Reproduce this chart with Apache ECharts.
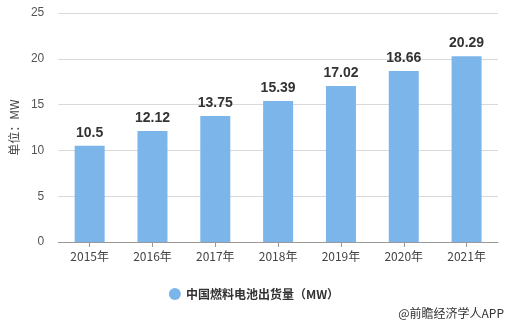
<!DOCTYPE html>
<html><head><meta charset="utf-8">
<script src="https://cdn.jsdelivr.net/npm/echarts@6/dist/echarts.min.js"></script>
<style>html,body{margin:0;padding:0;background:#fff}#c{width:508px;height:325px}</style>
</head><body><div id="c"></div>
<script>
var categories = ['2015年','2016年','2017年','2018年','2019年','2020年','2021年'];
var values = [10.5, 12.12, 13.75, 15.39, 17.02, 18.66, 20.29];
var seriesName = '中国燃料电池出货量（MW）';
var chart = echarts.init(document.getElementById('c'));
chart.setOption({
  animation: false,
  grid: {left: 57, right: 10, top: 13, bottom: 83},
  legend: {
    bottom: 20, left: 'center', icon: 'circle', itemWidth: 12, itemHeight: 12,
    textStyle: {fontSize: 12, fontWeight: 'bold', color: '#333', fontFamily: 'Noto Sans CJK SC'},
    data: [seriesName]
  },
  graphic: [{type: 'text', right: 4, bottom: 6, style: {text: '@前瞻经济学人APP', fontSize: 12, fill: '#333', fontFamily: 'Noto Sans CJK SC'}}],
  xAxis: {
    type: 'category', data: categories,
    axisLine: {lineStyle: {color: '#999'}},
    axisTick: {show: true, alignWithLabel: true, lineStyle: {color: '#999'}},
    axisLabel: {color: '#444', fontSize: 12, margin: 8, fontFamily: 'Noto Sans CJK SC'}
  },
  yAxis: {
    type: 'value', min: 0, max: 25, interval: 5,
    name: '单位：MW', nameLocation: 'middle', nameGap: 34, nameRotate: 90,
    nameTextStyle: {color: '#444', fontSize: 12, fontFamily: 'Noto Sans CJK SC'},
    axisLine: {show: false}, axisTick: {show: false},
    axisLabel: {color: '#555', fontSize: 12, margin: 14},
    splitLine: {lineStyle: {color: '#d9d9d9'}}
  },
  series: [{
    name: seriesName, type: 'bar', data: values, barWidth: 30,
    itemStyle: {color: '#7cb5ea'},
    label: {show: true, position: 'top', fontSize: 14, fontWeight: 'bold', color: '#333', distance: 6}
  }]
});
</script></body></html>
